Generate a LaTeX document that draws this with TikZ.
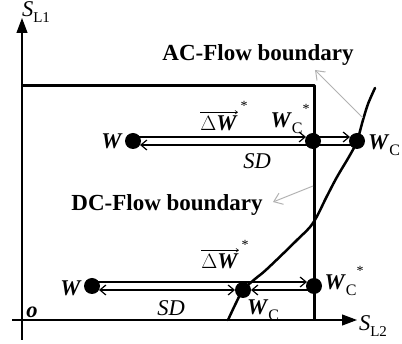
\documentclass[tikz,border=0pt]{standalone}
\usepackage{fontspec}
\setmainfont{Liberation Serif}
\usetikzlibrary{arrows.meta}
\newcommand\Wb{\textbf{\textit{W}}}
\newcommand\WCsub{\Wb\raisebox{-0.28em}{\fontsize{16}{16}\selectfont C}}
\newcommand\starsup{\raisebox{0.62em}{\fontsize{14}{14}\selectfont *}}
\begin{document}
\begin{tikzpicture}[x=1pt,y=-1pt,
  lbl/.style={inner sep=0pt, font=\fontsize{22.5}{25}\selectfont},
  bnd/.style={inner sep=0pt, font=\fontsize{23}{26}\selectfont\bfseries},
  dot/.style={circle, fill=black, inner sep=0pt, minimum size=16pt},
  axis/.style={line width=1.1pt, -{Triangle[length=15pt,width=11pt]}},
  flow/.style={line width=1.2pt, -{Straight Barb[length=6pt,width=10pt]}, shorten >=7pt},
  box/.style={line width=3pt, line join=round},
  grayarr/.style={draw=gray!60, line width=1pt, -{Straight Barb[length=8pt,width=12pt]}},
  ovarr/.style={line width=0.6pt, -{To[length=3pt,width=4pt]}},
]
\useasboundingbox (0,0) rectangle (402,344);
% axes
\coordinate (yb) at (22,340); \coordinate (yt) at (22,18);
\coordinate (xl) at (12,320); \coordinate (xr) at (357,320);
\draw[axis] (yb) -- (yt);
\draw[axis] (xl) -- (xr);
\node[lbl] (sl1) at (36,12) {\textit{S}\raisebox{-0.25em}{\fontsize{15}{15}\selectfont L1}};
\node[lbl] (sl2) at (373,326) {\textit{S}\raisebox{-0.25em}{\fontsize{15}{15}\selectfont L2}};
\node[lbl] (o) at (32,312) {\textbf{\textit{o}}};
% DC box
\coordinate (b1) at (22,86); \coordinate (b2) at (314,86); \coordinate (b3) at (314,320);
\draw[box] (b1) -- (b2) -- (b3);
% AC curve
\draw[line width=2.5pt, line cap=round] plot[smooth, tension=0.6] coordinates
  {(228,320) (236,303) (243,290) (255,279) (267,269) (297,240) (313,223) (327,196) (337,177) (350,155) (357,141) (363,120) (368,104) (375,88)};
% boundary labels and gray arrows
\node[bnd] (ac) at (258,55) {AC-Flow boundary};
\node[bnd] (dc) at (167,205) {DC-Flow boundary};
\coordinate (ga1s) at (363,118); \coordinate (ga1e) at (315,70);
\coordinate (ga2s) at (313,186); \coordinate (ga2e) at (273,202);
\draw[grayarr] (ga1s) -- (ga1e);
\draw[grayarr] (ga2s) -- (ga2e);
% dots
\node[dot] (w1) at (133,141) {};
\node[dot] (wc1s) at (313,141) {};
\node[dot] (wc1) at (357,141) {};
\node[dot] (w2) at (92,286) {};
\node[dot] (wc2) at (243,290) {};
\node[dot] (wc2s) at (314,286) {};
% upper row flows
\draw[flow] ([yshift=4pt]w1.center) -- ([yshift=4pt]wc1s.center);
\draw[flow] ([yshift=4pt]wc1s.center) -- ([yshift=4pt]wc1.center);
\draw[flow] ([yshift=-4pt]wc1.center) -- ([yshift=-4pt]w1.center);
% lower row flows
\draw[flow] ([yshift=4pt]w2.center) -- ([yshift=4pt]wc2s.center);
\draw[flow, shorten >=8pt] ([yshift=-4pt]wc2s.center) -- (wc2.center);
\draw[line width=1.2pt, {Straight Barb[length=6pt,width=10pt]}-{Straight Barb[length=6pt,width=10pt]}, shorten <=7pt, shorten >=8pt] ([yshift=-4pt]w2.center) -- (wc2.center);
% labels upper row
\node[lbl] (lw1) at (112,141) {\Wb};
\node[lbl] (dw1) at (219,123) {$\Delta$\Wb};
\draw[ovarr] ([yshift=3pt]dw1.north west) -- ([yshift=3pt]dw1.north east);
\node[inner sep=0pt, font=\fontsize{14}{14}\selectfont] (st1) at (244,106) {*};
\node[lbl] (lwc1s) at (290,119) {\WCsub\starsup};
\node[lbl] (lwc1) at (384,145) {\WCsub};
\node[lbl] (sd1) at (257,161) {\textit{SD}};
% labels lower row
\node[lbl] (lw2) at (71,288) {\Wb};
\node[lbl] (dw2) at (220,261) {$\Delta$\Wb};
\draw[ovarr] ([yshift=3pt]dw2.north west) -- ([yshift=3pt]dw2.north east);
\node[inner sep=0pt, font=\fontsize{14}{14}\selectfont] (st2) at (245,245) {*};
\node[lbl] (lwc2s) at (344,281) {\WCsub\starsup};
\node[lbl] (lwc2) at (263,310) {\WCsub};
\node[lbl] (sd2) at (171,308) {\textit{SD}};
\end{tikzpicture}
\end{document}
